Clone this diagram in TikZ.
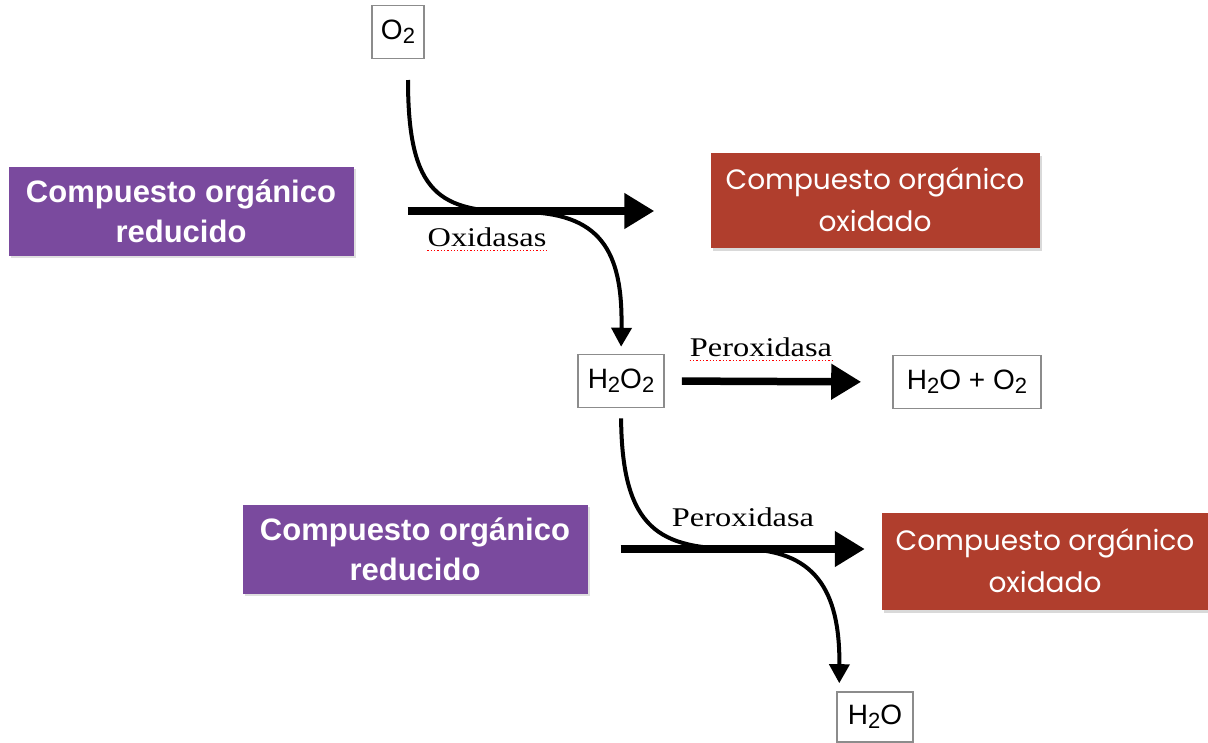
\documentclass[tikz,border=0pt]{standalone}
\usepackage{fontspec}
\setmainfont{Liberation Serif}
\newfontfamily\boldsans{Liberation Sans}
\newfontfamily\roundsans{Poppins}
\newfontfamily\enzymefont{Liberation Serif}[FakeStretch=1.2]
\usepackage{xcolor}
\usetikzlibrary{arrows.meta,shadows}
\definecolor{reducedpurple}{RGB}{122,74,158}
\definecolor{oxidizedred}{RGB}{176,62,45}
\definecolor{boxgray}{RGB}{140,140,140}
\newcommand{\lowtwo}{\raisebox{-0.25ex}{\fontsize{22}{24}\selectfont 2}}

\begin{document}
\begin{tikzpicture}[x=1pt, y=-1pt,
    reduced/.style={fill=reducedpurple, text=white, inner sep=0, align=center,
        minimum width=345, minimum height=89,
        font=\boldsans\bfseries\fontsize{31}{40}\selectfont,
        drop shadow={opacity=0.25, shadow xshift=2pt, shadow yshift=-2pt}},
    oxidized/.style={fill=oxidizedred, text=white, inner sep=0, align=center,
        minimum width=329, minimum height=95,
        font=\roundsans\fontsize{28}{42}\selectfont,
        drop shadow={opacity=0.3, shadow xshift=2pt, shadow yshift=-3pt}},
    species/.style={draw=boxgray, line width=1.6, inner sep=0, minimum height=53,
        font=\boldsans\fontsize{28}{30}\selectfont},
    enzyme/.style={inner sep=0, font=\enzymefont\fontsize{27}{30}\selectfont},
    spellmark/.style={red, dotted, line width=1.3},
    bigarrow/.style={line width=7.5, -{Triangle[length=30pt,width=34pt]}},
    bendarrow/.style={line width=4, -{Triangle[length=19pt,width=20pt]}}]
    \useasboundingbox (0,0) rectangle (1208,742);

    % -------------------------
    % Oxidasas (top)
    % -------------------------
    \node[species, minimum width=52] (o2) at (398,32) {O\lowtwo};
    \node[reduced] (red1) at (181,211) {Compuesto orgánico\\reducido};
    \node[oxidized] (ox1) at (875,200) {Compuesto orgánico\\oxidado};
    \node[enzyme] (oxidasas) at (487,237) {Oxidasas};
    \draw[spellmark] ([yshift=-4pt]oxidasas.south west) -- ([yshift=-4pt]oxidasas.south east);

    \node[species, minimum width=86] (h2o2) at (621,381) {H\lowtwo O\lowtwo};
    \coordinate (o2tail) at (408,80);

    \draw[bigarrow, shorten <=54pt, shorten >=56pt] (red1.east) -- (red1.east -| ox1.west);
    \draw[bendarrow, shorten >=7pt] (o2tail) .. controls (408,195) and (440,212) .. (520,212)
        .. controls (600,212) and (623,250) .. (h2o2.north);

    % -------------------------
    % Peroxidasa (middle)
    % -------------------------
    \node[species, minimum width=148] (h2oo2) at (967,382) {H\lowtwo O + O\lowtwo};
    \node[enzyme] (perox1) at (761,347) {Peroxidasa};
    \draw[spellmark] ([yshift=-4pt]perox1.south west) -- ([yshift=-4pt]perox1.south east);
    \draw[bigarrow, shorten <=17pt, shorten >=31pt] (h2o2.east) -- (h2oo2.west);

    % -------------------------
    % Peroxidasa (bottom)
    % -------------------------
    \node[reduced] (red2) at (415,549) {Compuesto orgánico\\reducido};
    \node[oxidized, minimum width=326, minimum height=97] (ox2) at (1045,561) {Compuesto orgánico\\oxidado};
    \node[enzyme] (perox2) at (743,517) {Peroxidasa};
    \node[species, minimum width=76, minimum height=50] (h2o) at (875,717) {H\lowtwo O};

    \draw[bigarrow, shorten <=33pt, shorten >=17pt] (red2.east) -- (red2.east -| ox2.west);
    \draw[bendarrow, shorten <=10pt, shorten >=8pt] (h2o2.south) .. controls (622,530) and (660,549) .. (740,549)
        .. controls (815,549) and (840,590) .. ([xshift=3]h2o.north west);

\end{tikzpicture}
\end{document}
